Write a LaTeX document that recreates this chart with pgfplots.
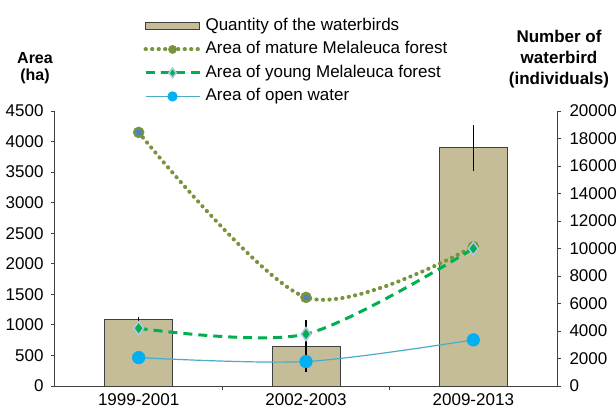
\documentclass[border=0pt]{standalone}
\usepackage{fontspec}
\setmainfont{Liberation Sans}
\usepackage{pgfplots}
\pgfplotsset{compat=1.18}
\definecolor{barfill}{RGB}{196,189,151}
\definecolor{bardraw}{RGB}{64,64,64}
\definecolor{mature}{RGB}{119,147,60}
\definecolor{maturein}{RGB}{79,129,189}
\definecolor{young}{RGB}{0,176,80}
\definecolor{younghalo}{RGB}{180,199,231}
\definecolor{waterline}{RGB}{75,172,198}
\definecolor{watermark}{RGB}{0,176,240}
\definecolor{axcol}{RGB}{64,64,64}
\newcommand\cf{\fontsize{17bp}{20bp}\selectfont}
\newcommand\lf{\fontsize{17bp}{20bp}\selectfont}

\begin{document}
\begin{tikzpicture}
\useasboundingbox (-55bp,-28bp) rectangle (561bp,386bp);
% bars: number of waterbirds (right axis)
\begin{axis}[
  scale only axis, width=502bp, height=275bp,
  xmin=-0.5, xmax=2.5, ymin=0, ymax=20000,
  axis y line*=right, axis x line*=bottom,
  axis line style={axcol, line width=1bp},
  xtick={0.5,1.5}, xticklabels={},
  extra x ticks={0,1,2},
  extra x tick labels={1999-2001,2002-2003,2009-2013},
  extra x tick style={major tick length=0pt},
  ytick={0,2000,...,20000}, scaled y ticks=false,
  tick align=outside, major tick length=4bp,
  tick style={axcol, line width=1bp},
  tick label style={font=\cf, /pgf/number format/assume math mode=true},
  yticklabel style={/pgf/number format/1000 sep={}, xshift=5bp},
  xticklabel style={yshift=-4bp},
  clip=false,
]
\addplot[ybar, bar width=68bp, fill=barfill, draw=bardraw, line width=1bp,
  error bars/.cd, y dir=both, y explicit, error mark=none,
  error bar style={black, line width=1.3bp}]
  coordinates {(0,4870) +- (0,170) (1,2900) +- (0,1870) (2,17330) +- (0,1660)};
\end{axis}
% lines: areas (left axis)
\begin{axis}[
  scale only axis, width=502bp, height=275bp,
  xmin=-0.5, xmax=2.5, ymin=0, ymax=4500,
  axis y line*=left, axis x line=none,
  axis line style={axcol, line width=1bp},
  ytick={0,500,...,4500},
  tick align=outside, major tick length=4bp,
  tick style={axcol, line width=1bp},
  tick label style={font=\cf, /pgf/number format/assume math mode=true},
  yticklabel style={/pgf/number format/1000 sep={}, xshift=-4bp},
  clip=false,
  legend cell align=left,
  legend style={at={(0.176,1.342)}, anchor=north west, draw=none, fill=none,
    inner sep=0pt, row sep=6bp, font=\lf,
    nodes={inner sep=1bp, text height=12bp, text depth=3.5bp}},
  legend image code/.code={\draw[mark repeat=2, mark phase=2, #1, /tikz/every mark/.append style={scale=0.75}]
    plot coordinates {(0bp,0bp) (27bp,0bp) (54bp,0bp)};},
]
\addlegendimage{legend image code/.code={\draw[fill=barfill, draw=bardraw, line width=1.3bp] (0bp,-3.5bp) rectangle (54bp,3.5bp);}}
\addlegendentry{\hspace{3bp}Quantity of the waterbirds}
\addplot[mature, smooth, line width=4bp, dash pattern=on 0.3bp off 6.2bp, line cap=round,
  mark=*, mark size=5.5bp, mark options={solid, fill=mature, draw=mature, line width=0.5bp}]
  coordinates {(0,4150) (1,1450) (2,2280)};
\addlegendentry{\hspace{3bp}Area of mature Melaleuca forest}
\addplot[only marks, mark=square*, mark size=2.3bp, maturein, forget plot]
  coordinates {(0,4150) (1,1450) (2,2280)};
\addplot[young, smooth, line width=3bp, dash pattern=on 9bp off 6bp,
  mark=diamond*, mark size=6.5bp, mark options={solid, fill=young, draw=younghalo, line width=1.5bp}]
  coordinates {(0,945) (1,850) (2,2250)};
\addlegendentry{\hspace{3bp}Area of young Melaleuca forest}
\addplot[waterline, smooth, line width=1.2bp,
  mark=*, mark size=6bp, mark options={fill=watermark, draw=watermark}]
  coordinates {(0,465) (1,400) (2,755)};
\addlegendentry{\hspace{3bp}Area of open water}
\end{axis}
\node[font=\bfseries\fontsize{16bp}{17bp}\selectfont, align=center, inner sep=0pt] at (-20bp,317.5bp) {Area\\(ha)};
\node[font=\bfseries\fontsize{17bp}{21bp}\selectfont, align=center, inner sep=0pt] at (504bp,327bp) {Number of\\waterbird\\(individuals)};
\end{tikzpicture}
\end{document}
